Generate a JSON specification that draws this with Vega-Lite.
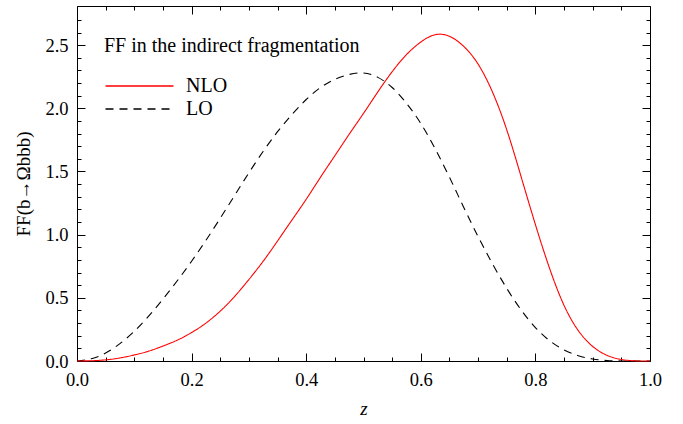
{
  "$schema": "https://vega.github.io/schema/vega-lite/v6.json",
  "width": 573,
  "height": 355,
  "autosize": {"type": "none"},
  "padding": {"left": 77, "top": 6, "right": 33, "bottom": 63},
  "config": {
    "font": "Liberation Serif",
    "view": {"stroke": "#000", "strokeWidth": 1},
    "axis": {
      "domain": false,
      "grid": false,
      "labelFont": "Liberation Serif",
      "labelFontSize": 18.5,
      "labelColor": "#000",
      "tickColor": "#000",
      "titleFont": "Liberation Serif",
      "titleFontWeight": "normal",
      "titleColor": "#000",
      "titleFontSize": 19
    },
    "legend": {
      "titleFont": "Liberation Serif",
      "titleFontSize": 20,
      "titleFontWeight": "normal",
      "titleColor": "#000",
      "titleLimit": 500,
      "titlePadding": 20,
      "labelFont": "Liberation Serif",
      "labelFontSize": 20,
      "labelColor": "#000",
      "symbolType": "M-1,0H7",
      "symbolSize": 289,
      "symbolStrokeWidth": 1.6,
      "rowPadding": 3,
      "labelOffset": 62
    }
  },
  "data": {
    "values": [
      {"z": 0.0, "ff": 0.0, "series": "LO"},
      {"z": 0.025, "ff": 0.018, "series": "LO"},
      {"z": 0.05, "ff": 0.063, "series": "LO"},
      {"z": 0.075, "ff": 0.138, "series": "LO"},
      {"z": 0.1, "ff": 0.235, "series": "LO"},
      {"z": 0.125, "ff": 0.355, "series": "LO"},
      {"z": 0.15, "ff": 0.49, "series": "LO"},
      {"z": 0.175, "ff": 0.635, "series": "LO"},
      {"z": 0.2, "ff": 0.79, "series": "LO"},
      {"z": 0.225, "ff": 0.955, "series": "LO"},
      {"z": 0.25, "ff": 1.13, "series": "LO"},
      {"z": 0.275, "ff": 1.31, "series": "LO"},
      {"z": 0.3, "ff": 1.49, "series": "LO"},
      {"z": 0.325, "ff": 1.66, "series": "LO"},
      {"z": 0.35, "ff": 1.815, "series": "LO"},
      {"z": 0.375, "ff": 1.95, "series": "LO"},
      {"z": 0.4, "ff": 2.07, "series": "LO"},
      {"z": 0.425, "ff": 2.165, "series": "LO"},
      {"z": 0.45, "ff": 2.23, "series": "LO"},
      {"z": 0.475, "ff": 2.268, "series": "LO"},
      {"z": 0.5, "ff": 2.28, "series": "LO"},
      {"z": 0.525, "ff": 2.245, "series": "LO"},
      {"z": 0.55, "ff": 2.165, "series": "LO"},
      {"z": 0.575, "ff": 2.04, "series": "LO"},
      {"z": 0.6, "ff": 1.88, "series": "LO"},
      {"z": 0.625, "ff": 1.68, "series": "LO"},
      {"z": 0.65, "ff": 1.455, "series": "LO"},
      {"z": 0.675, "ff": 1.215, "series": "LO"},
      {"z": 0.7, "ff": 0.985, "series": "LO"},
      {"z": 0.725, "ff": 0.77, "series": "LO"},
      {"z": 0.75, "ff": 0.575, "series": "LO"},
      {"z": 0.775, "ff": 0.405, "series": "LO"},
      {"z": 0.8, "ff": 0.265, "series": "LO"},
      {"z": 0.825, "ff": 0.16, "series": "LO"},
      {"z": 0.85, "ff": 0.088, "series": "LO"},
      {"z": 0.875, "ff": 0.042, "series": "LO"},
      {"z": 0.9, "ff": 0.016, "series": "LO"},
      {"z": 0.925, "ff": 0.004, "series": "LO"},
      {"z": 0.95, "ff": 0.0005, "series": "LO"},
      {"z": 0.975, "ff": 0.0, "series": "LO"},
      {"z": 1.0, "ff": 0.0, "series": "LO"},
      {"z": 0.0, "ff": 0.0, "series": "NLO"},
      {"z": 0.025, "ff": 0.002, "series": "NLO"},
      {"z": 0.05, "ff": 0.009, "series": "NLO"},
      {"z": 0.075, "ff": 0.024, "series": "NLO"},
      {"z": 0.1, "ff": 0.048, "series": "NLO"},
      {"z": 0.125, "ff": 0.078, "series": "NLO"},
      {"z": 0.15, "ff": 0.118, "series": "NLO"},
      {"z": 0.175, "ff": 0.165, "series": "NLO"},
      {"z": 0.2, "ff": 0.225, "series": "NLO"},
      {"z": 0.225, "ff": 0.3, "series": "NLO"},
      {"z": 0.25, "ff": 0.395, "series": "NLO"},
      {"z": 0.275, "ff": 0.51, "series": "NLO"},
      {"z": 0.3, "ff": 0.645, "series": "NLO"},
      {"z": 0.325, "ff": 0.79, "series": "NLO"},
      {"z": 0.35, "ff": 0.95, "series": "NLO"},
      {"z": 0.375, "ff": 1.115, "series": "NLO"},
      {"z": 0.4, "ff": 1.28, "series": "NLO"},
      {"z": 0.425, "ff": 1.455, "series": "NLO"},
      {"z": 0.45, "ff": 1.625, "series": "NLO"},
      {"z": 0.475, "ff": 1.795, "series": "NLO"},
      {"z": 0.5, "ff": 1.96, "series": "NLO"},
      {"z": 0.525, "ff": 2.13, "series": "NLO"},
      {"z": 0.55, "ff": 2.29, "series": "NLO"},
      {"z": 0.575, "ff": 2.425, "series": "NLO"},
      {"z": 0.6, "ff": 2.525, "series": "NLO"},
      {"z": 0.625, "ff": 2.583, "series": "NLO"},
      {"z": 0.65, "ff": 2.57, "series": "NLO"},
      {"z": 0.675, "ff": 2.49, "series": "NLO"},
      {"z": 0.7, "ff": 2.35, "series": "NLO"},
      {"z": 0.725, "ff": 2.13, "series": "NLO"},
      {"z": 0.75, "ff": 1.83, "series": "NLO"},
      {"z": 0.775, "ff": 1.46, "series": "NLO"},
      {"z": 0.8, "ff": 1.08, "series": "NLO"},
      {"z": 0.825, "ff": 0.73, "series": "NLO"},
      {"z": 0.85, "ff": 0.44, "series": "NLO"},
      {"z": 0.875, "ff": 0.24, "series": "NLO"},
      {"z": 0.9, "ff": 0.115, "series": "NLO"},
      {"z": 0.925, "ff": 0.045, "series": "NLO"},
      {"z": 0.95, "ff": 0.012, "series": "NLO"},
      {"z": 0.975, "ff": 0.001, "series": "NLO"},
      {"z": 1.0, "ff": 0.0, "series": "NLO"}
    ]
  },
  "layer": [
    {
      "mark": {"type": "line", "strokeWidth": 1.1, "interpolate": "natural"},
      "encoding": {
        "x": {
          "field": "z", "type": "quantitative",
          "scale": {"domain": [0, 1], "nice": false},
          "axis": {
            "orient": "bottom",
            "values": [0, 0.05, 0.1, 0.15, 0.2, 0.25, 0.3, 0.35, 0.4, 0.45, 0.5, 0.55, 0.6, 0.65, 0.7, 0.75, 0.8, 0.85, 0.9, 0.95, 1.0],
            "labelExpr": "round(datum.value*100) % 20 === 0 ? format(datum.value, '.1f') : ''",
            "tickSize": {"condition": {"test": "round(datum.value*100) % 20 === 0", "value": -8}, "value": -4},
            "labelPadding": 17,
            "labelFlush": false,
            "title": "z",
            "titleFontStyle": "italic",
            "titlePadding": 11
          }
        },
        "y": {
          "field": "ff", "type": "quantitative",
          "scale": {"domain": [0, 2.81], "nice": false},
          "axis": {
            "orient": "left",
            "values": [0, 0.1, 0.2, 0.3, 0.4, 0.5, 0.6, 0.7, 0.8, 0.9, 1.0, 1.1, 1.2, 1.3, 1.4, 1.5, 1.6, 1.7, 1.8, 1.9, 2.0, 2.1, 2.2, 2.3, 2.4, 2.5, 2.6, 2.7],
            "labelExpr": "round(datum.value*10) % 5 === 0 ? format(datum.value, '.1f') : ''",
            "tickSize": {"condition": {"test": "round(datum.value*10) % 5 === 0", "value": -8}, "value": -4},
            "labelPadding": 17,
            "labelFlush": false,
            "title": "FF(b→Ωbbb)",
            "titlePadding": 11
          }
        },
        "color": {
          "field": "series", "type": "nominal",
          "scale": {"domain": ["NLO", "LO"], "range": ["#ff0000", "#000000"]},
          "legend": {"title": "FF in the indirect fragmentation", "orient": "none", "legendX": 27, "legendY": 30}
        },
        "strokeDash": {
          "field": "series", "type": "nominal",
          "scale": {"domain": ["NLO", "LO"], "range": [[1, 0], [8, 6]]},
          "legend": {"title": "FF in the indirect fragmentation", "orient": "none", "legendX": 27, "legendY": 30}
        }
      }
    },
    {
      "mark": {"type": "point", "opacity": 0},
      "encoding": {
        "x": {
          "field": "z", "type": "quantitative",
          "axis": {
            "orient": "top",
            "values": [0, 0.05, 0.1, 0.15, 0.2, 0.25, 0.3, 0.35, 0.4, 0.45, 0.5, 0.55, 0.6, 0.65, 0.7, 0.75, 0.8, 0.85, 0.9, 0.95, 1.0],
            "labels": false,
            "tickSize": {"condition": {"test": "round(datum.value*100) % 20 === 0", "value": -8}, "value": -4},
            "title": null
          }
        },
        "y": {
          "field": "ff", "type": "quantitative",
          "axis": {
            "orient": "right",
            "values": [0, 0.1, 0.2, 0.3, 0.4, 0.5, 0.6, 0.7, 0.8, 0.9, 1.0, 1.1, 1.2, 1.3, 1.4, 1.5, 1.6, 1.7, 1.8, 1.9, 2.0, 2.1, 2.2, 2.3, 2.4, 2.5, 2.6, 2.7],
            "labels": false,
            "tickSize": {"condition": {"test": "round(datum.value*10) % 5 === 0", "value": -8}, "value": -4},
            "title": null
          }
        }
      }
    }
  ],
  "resolve": {"axis": {"x": "independent", "y": "independent"}}
}
